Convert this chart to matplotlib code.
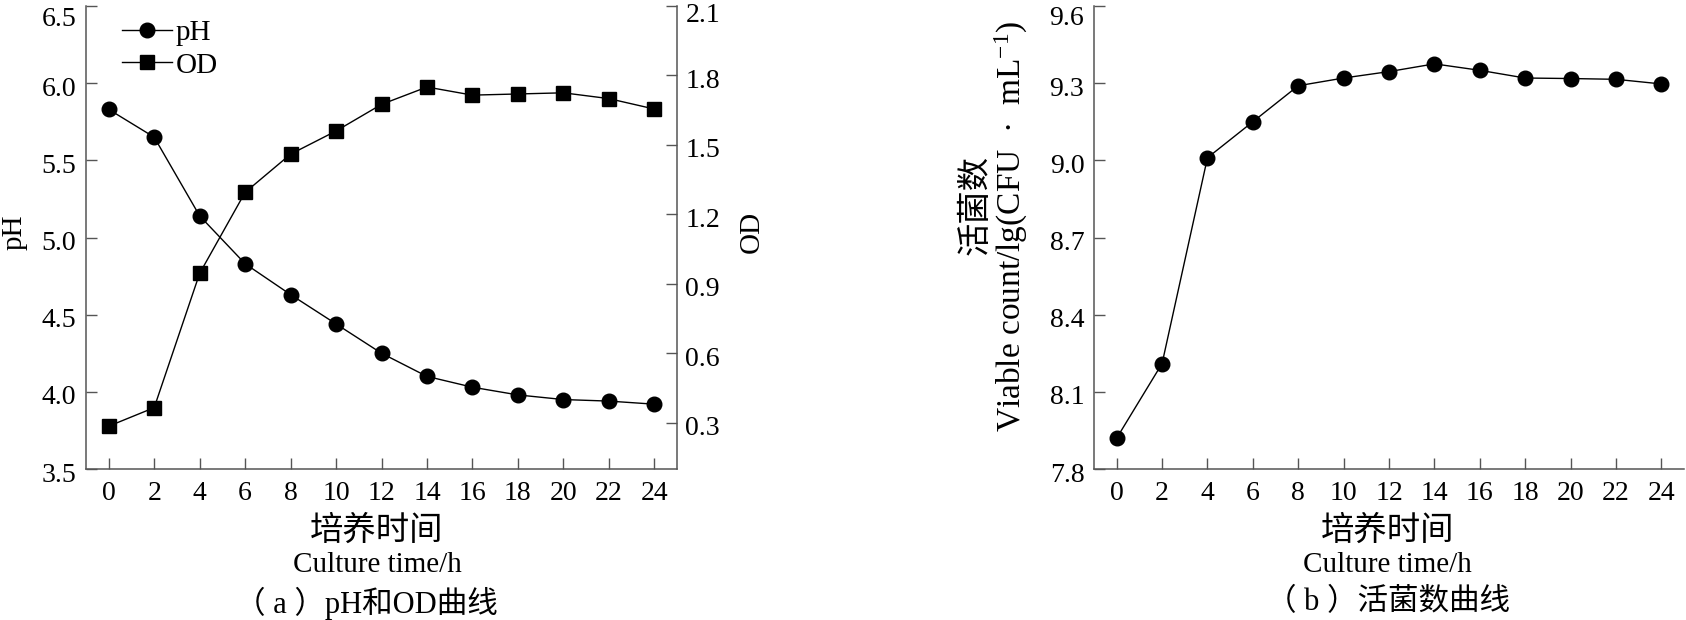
import matplotlib
matplotlib.use("Agg")
import matplotlib.pyplot as plt
from matplotlib.lines import Line2D
from matplotlib.transforms import ScaledTranslation

# ---------------- data ----------------
time_h = [0, 2, 4, 6, 8, 10, 12, 14, 16, 18, 20, 22, 24]
ph_values = [5.83, 5.65, 5.14, 4.83, 4.63, 4.44, 4.25, 4.10, 4.03, 3.98, 3.95, 3.94, 3.92]
od_values = [0.285, 0.365, 0.945, 1.295, 1.46, 1.56, 1.675, 1.75, 1.715, 1.72, 1.725, 1.70, 1.655]
viable_values = [7.92, 8.21, 9.01, 9.15, 9.29, 9.32, 9.345, 9.375, 9.35, 9.32, 9.318, 9.315, 9.297]

ph_ticks = [3.5, 4.0, 4.5, 5.0, 5.5, 6.0, 6.5]
od_ticks = [0.3, 0.6, 0.9, 1.2, 1.5, 1.8, 2.1]
viable_ticks = [7.8, 8.1, 8.4, 8.7, 9.0, 9.3, 9.6]

xlabel_cn = "培养时间"
xlabel_en = "Culture time/h"
caption_a = "（ a ）pH和OD曲线"
caption_b = "（ b ）活菌数曲线"
ylabel_b_cn = "活菌数"
ylabel_b_en = r"Viable count/lg(CFU  ·  mL$^{-1}$)"

# ---------------- style ----------------
W, H = 1686, 620
plt.rcParams['font.family'] = ['Liberation Serif', 'Noto Sans CJK SC', 'DejaVu Sans']
plt.rcParams['mathtext.fontset'] = 'custom'
plt.rcParams['mathtext.rm'] = 'Liberation Serif'
plt.rcParams['mathtext.it'] = 'Liberation Serif:italic'
SPINE = '#555555'
TICK_FS = 20
LAB_FS = 21
CN_FS = 24
CN_FAM = ['Noto Sans CJK SC', 'DejaVu Sans']
MIX_FAM = ['Liberation Serif', 'Noto Sans CJK SC']

fig = plt.figure(figsize=(W / 100, H / 100), dpi=100)


def fx(px):
    return px / W


def fy(py):
    return 1 - py / H


def rect(x0, y0, x1, y1):
    return [fx(x0), fy(y1), fx(x1) - fx(x0), fy(y0) - fy(y1)]


def style_axis(ax, sides):
    for s in ['top', 'bottom', 'left', 'right']:
        ax.spines[s].set_visible(s in sides)
        ax.spines[s].set_color(SPINE)
        ax.spines[s].set_linewidth(1.1)
    ax.tick_params(direction='in', length=8, width=1.0, color=SPINE,
                   labelsize=TICK_FS, pad=7)
    ax.tick_params(axis='x', pad=9)


def shift_ylabels(ax, top_shift_px, other_shift_px=3):
    labels = ax.get_yticklabels()
    for i, lab in enumerate(labels):
        d = top_shift_px if i == len(labels) - 1 else other_shift_px
        lab.set_transform(lab.get_transform() + ScaledTranslation(0, -d / 100, fig.dpi_scale_trans))


line_kw = dict(color='black', lw=1.0, markersize=10.5, mfc='black', mec='black')

# ---------------- panel (a) ----------------
ax1 = fig.add_axes(rect(86, 6, 677, 469))
ax1.plot(time_h, ph_values, marker='o', label='pH', **line_kw)
ax1.set_xlim(-1, 25)
ax1.set_ylim(3.5, 6.5)
ax1.set_xticks(time_h)
ax1.set_yticks(ph_ticks)
ax1.set_yticklabels([f"{v:.1f}" for v in ph_ticks])
style_axis(ax1, ['left', 'bottom'])

ax2 = ax1.twinx()
ax2.plot(time_h, od_values, marker='s', label='OD', **line_kw)
ax2.set_ylim(0.1, 2.1)
ax2.set_yticks(od_ticks)
ax2.set_yticklabels([f"{v:.1f}" for v in od_ticks])
style_axis(ax2, ['right'])
ax2.tick_params(axis='y', pad=6)

fig.text(fx(15), fy(232), "pH", rotation=90, ha='center', va='center', fontsize=LAB_FS)
fig.text(fx(752), fy(232), "OD", rotation=90, ha='center', va='center', fontsize=LAB_FS)

handles = [Line2D([], [], marker='o', **line_kw), Line2D([], [], marker='s', **line_kw)]
ax1.legend(handles, ['pH', 'OD'], loc='upper left', bbox_to_anchor=(fx(122), fy(20)),
           bbox_transform=fig.transFigure, frameon=False, fontsize=21,
           handlelength=1.7, handletextpad=0.15, labelspacing=0.2,
           borderpad=0, borderaxespad=0)

cx_a = (109 + 654) / 2
fig.text(fx(cx_a - 5), fy(530), xlabel_cn, ha='center', va='center', fontsize=CN_FS, family=CN_FAM)
fig.text(fx(cx_a - 4), fy(572), xlabel_en, ha='center', va='baseline', fontsize=LAB_FS)
fig.text(fx(cx_a - 15), fy(603), caption_a, ha='center', va='center', fontsize=22, family=MIX_FAM)

# ---------------- panel (b) ----------------
ax3 = fig.add_axes(rect(1094, 6, 1684, 469))
ax3.plot(time_h, viable_values, marker='o', **line_kw)
ax3.set_xlim(-1, 25)
ax3.set_ylim(7.8, 9.6)
ax3.set_xticks(time_h)
ax3.set_yticks(viable_ticks)
ax3.set_yticklabels([f"{v:.1f}" for v in viable_ticks])
style_axis(ax3, ['left', 'bottom'])

shift_ylabels(ax1, 10)
shift_ylabels(ax2, 7)
shift_ylabels(ax3, 10)

fig.text(fx(975), fy(205), ylabel_b_cn, rotation=90, ha='center', va='center',
         fontsize=CN_FS, family=CN_FAM)
fig.text(fx(1011), fy(226), ylabel_b_en, rotation=90, ha='center', va='center',
         fontsize=24)

cx_b = (1117 + 1662) / 2
fig.text(fx(cx_b - 2), fy(530), xlabel_cn, ha='center', va='center', fontsize=CN_FS, family=CN_FAM)
fig.text(fx(cx_b - 2), fy(572), xlabel_en, ha='center', va='baseline', fontsize=LAB_FS)
fig.text(fx(cx_b - 2), fy(603), caption_b, ha='center', va='center', fontsize=22, family=MIX_FAM)

fig.savefig("out.png", dpi=100)
